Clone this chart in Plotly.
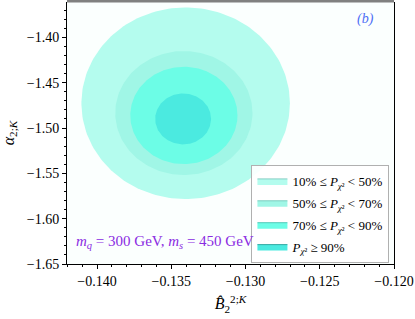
import numpy as np
import plotly.graph_objects as go

# Contour regions (approximated as ellipses)
labels = [
    "10% ≤ <i>P</i><sub><i>χ</i>²</sub> < 50%",
    "50% ≤ <i>P</i><sub><i>χ</i>²</sub> < 70%",
    "70% ≤ <i>P</i><sub><i>χ</i>²</sub> < 90%",
    "<i>P</i><sub><i>χ</i>²</sub> ≥ 90%",
]
center_x = [-0.13403, -0.13415, -0.13415, -0.13420]
center_y = [-1.4727, -1.4835, -1.4861, -1.4900]
semi_x = [0.00702, 0.00462, 0.00361, 0.00188]
semi_y = [0.1057, 0.0684, 0.0537, 0.0281]
fill_colors = ["#b4fcee", "#a0f6e6", "#6cfde6", "#4beae0"]
edge_colors = ["#86cfc4", "#79cdbf", "#4fc9b8", "#34a9a2"]

x_ticks = [-0.140, -0.135, -0.130, -0.125, -0.120]
y_ticks = [-1.40, -1.45, -1.50, -1.55, -1.60, -1.65]

font_family = "Liberation Serif, DejaVu Serif, serif"

fig = go.Figure()
t = np.linspace(0, 2 * np.pi, 200)
for cx, cy, ax, ay, fc in zip(center_x, center_y, semi_x, semi_y, fill_colors):
    fig.add_trace(go.Scatter(
        x=cx + ax * np.cos(t), y=cy + ay * np.sin(t),
        mode="lines", fill="toself", fillcolor=fc,
        line=dict(width=0, color=fc), showlegend=False, hoverinfo="skip"))

for i, (lab, fc, ec) in enumerate(zip(labels, fill_colors, edge_colors)):
    fig.add_trace(go.Scatter(
        x=[None], y=[None], mode="lines", fill="toself", fillcolor=fc,
        line=dict(width=1, color=ec), name=lab, showlegend=True,
        legendgroup=f"g{i}"))

fig.add_annotation(x=-0.13544, y=-1.626, xref="x", yref="y",
                   text="<i>m<sub>q</sub></i> = 300 GeV, <i>m<sub>s</sub></i> = 450 GeV",
                   showarrow=False, font=dict(color="#8a2be2", size=15, family=font_family))
fig.add_annotation(x=0.945, y=0.975, xref="paper", yref="paper", xanchor="right", yanchor="top",
                   text="<i>(b)</i>", showarrow=False,
                   font=dict(color="#4d6ef5", size=14, family=font_family))
fig.add_shape(type="rect", xref="paper", yref="paper", x0=0, x1=1, y0=0.998, y1=1.008,
              fillcolor="#808080", line=dict(width=0), layer="above")

fig.update_layout(
    width=415, height=319,
    margin=dict(l=67, r=21, t=2, b=55),
    paper_bgcolor="white", plot_bgcolor="#fbfffe",
    font=dict(family=font_family, size=14, color="black"),
    legend=dict(x=0.986, y=0.378, xanchor="right", yanchor="top",
                bgcolor="rgba(255,255,255,0.9)", bordercolor="#b0b0b0", borderwidth=1,
                font=dict(size=13, family=font_family), tracegroupgap=2),
    xaxis=dict(range=[-0.14202, -0.120], tickvals=x_ticks,
               ticktext=[f"−{abs(v):.3f}" for v in x_ticks], ticklabeloverflow="allow",
               showgrid=False, zeroline=False, showline=True, linecolor="black", linewidth=1,
               ticks="outside", ticklen=4, tickcolor="black",
               minor=dict(dtick=0.001, tick0=-0.140, ticks="outside", ticklen=2, tickcolor="black"),
               title=dict(text="<i>B̂</i><sub>2</sub><sup>2;<i>K</i></sup>", standoff=10,
                          font=dict(size=16))),
    yaxis=dict(range=[-1.65, -1.361], tickvals=y_ticks,
               ticktext=[f"−{abs(v):.2f}" for v in y_ticks], ticklabeloverflow="allow",
               showgrid=False, zeroline=False, showline=True, linecolor="black", linewidth=1,
               mirror=True,
               ticks="outside", ticklen=4, tickcolor="black",
               minor=dict(dtick=0.01, tick0=-1.65, ticks="outside", ticklen=2, tickcolor="black"),
               title=dict(text="<i>α</i><sub>2;<i>K</i></sub>", standoff=14, font=dict(size=16))),
)

fig.write_html(
    "out.html",
    config={"displayModeBar": False},
    post_script="document.body.style.margin='0';document.body.style.overflow='hidden';",
)
